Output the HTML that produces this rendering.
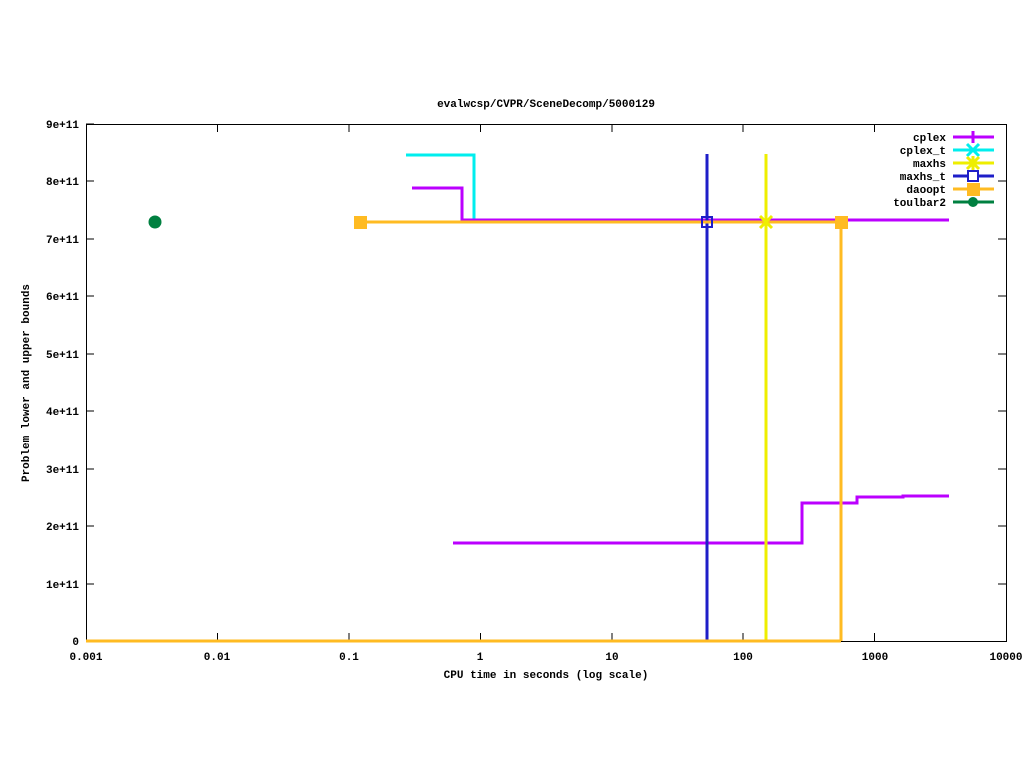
<!DOCTYPE html>
<html><head><style>body{margin:0;background:#fff}</style></head><body>
<svg width="1024" height="768" xmlns="http://www.w3.org/2000/svg" font-family="Liberation Mono, monospace" font-size="11" font-weight="bold">
<rect width="1024" height="768" fill="#fff"/>
<text x="546" y="107" text-anchor="middle">evalwcsp/CVPR/SceneDecomp/5000129</text>
<g stroke="#000" stroke-width="1" fill="none">
<rect x="86.5" y="124.5" width="920" height="517"/>
</g>
<g stroke="#000" stroke-width="1">
<path d="M86 641h8M86 584h8M86 526h8M86 469h8M86 411h8M86 354h8M86 296h8M86 239h8M86 181h8M86 124h8M1006 584h-8M1006 526h-8M1006 469h-8M1006 411h-8M1006 354h-8M1006 296h-8M1006 239h-8M1006 181h-8"/>
<path d="M86.5 641v-8M217.5 641v-8M349 641v-8M480.5 641v-8M612 641v-8M743 641v-8M874.5 641v-8M86.5 124v8M217.5 124v8M349 124v8M480.5 124v8M612 124v8M743 124v8M874.5 124v8"/>
</g>
<g text-anchor="end">
<text x="79" y="645">0</text><text x="79" y="588">1e+11</text><text x="79" y="530">2e+11</text><text x="79" y="473">3e+11</text><text x="79" y="415">4e+11</text><text x="79" y="358">5e+11</text><text x="79" y="300">6e+11</text><text x="79" y="243">7e+11</text><text x="79" y="185">8e+11</text><text x="79" y="128">9e+11</text>
</g>
<g text-anchor="middle">
<text x="86" y="660">0.001</text><text x="217" y="660">0.01</text><text x="349" y="660">0.1</text><text x="480" y="660">1</text><text x="612" y="660">10</text><text x="743" y="660">100</text><text x="875" y="660">1000</text><text x="1006" y="660">10000</text>
<text x="546" y="678">CPU time in seconds (log scale)</text>
</g>
<text transform="translate(29,383) rotate(-90)" text-anchor="middle">Problem lower and upper bounds</text>
<g fill="none" stroke-width="3">
<path d="M406 155H474V220" stroke="#00eeee"/>
<path d="M412 188H462V220H949" stroke="#bb00ff"/>
<path d="M453 543H802V503H857V497H903V496H949" stroke="#bb00ff"/>
<path d="M707 154V641" stroke="#1e1ec8"/>
<path d="M766 154V641" stroke="#eeee00"/>
<path d="M86 641H841M360 222H841V641" stroke="#ffbb22"/>
</g>
<rect x="354" y="216" width="13" height="13" fill="#ffbb22"/>
<rect x="835" y="216" width="13" height="13" fill="#ffbb22"/>
<rect x="702" y="217" width="10" height="10" fill="none" stroke="#1e1ec8" stroke-width="2"/>
<path d="M760 216l12 12M772 216l-12 12M766 215v14" stroke="#eeee00" stroke-width="3"/>
<circle cx="155" cy="222" r="6" fill="#008040" stroke="#008040"/>
<g text-anchor="end">
<text x="946" y="141">cplex</text><text x="946" y="154">cplex_t</text><text x="946" y="167">maxhs</text><text x="946" y="180">maxhs_t</text><text x="946" y="193">daoopt</text><text x="946" y="206">toulbar2</text>
</g>
<g stroke-width="3">
<path d="M953 137h41M973 131v12" stroke="#bb00ff"/>
<path d="M953 150h41M967 144l12 12M979 144l-12 12" stroke="#00eeee"/>
<path d="M953 163h41M967 157l12 12M979 157l-12 12M973 156v14" stroke="#eeee00"/>
<path d="M953 176h41" stroke="#1e1ec8"/>
<rect x="968" y="171" width="10" height="10" fill="#fff" stroke="#1e1ec8" stroke-width="2"/>
<path d="M953 189h41" stroke="#ffbb22"/>
<rect x="967" y="183" width="13" height="13" fill="#ffbb22" stroke="none"/>
<path d="M953 202h41" stroke="#008040"/>
<circle cx="973" cy="202" r="5" fill="#008040" stroke="none"/>
</g>
</svg>
</body></html>
